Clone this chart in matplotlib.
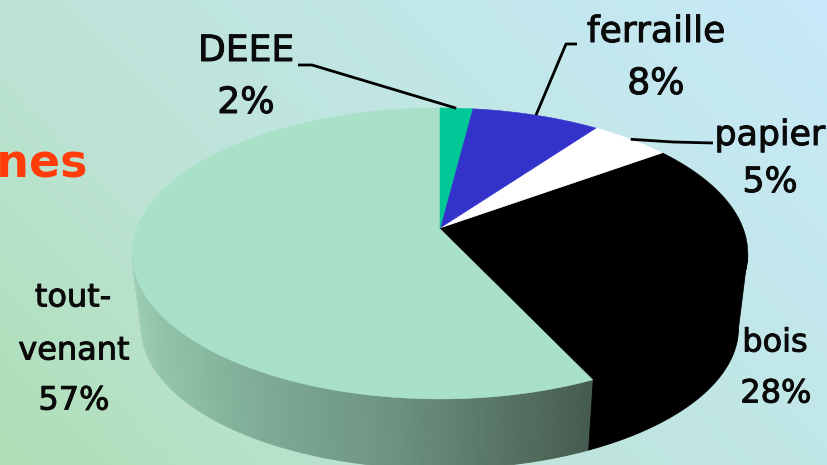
import numpy as np
from matplotlib import pyplot as plt, font_manager, patheffects
from matplotlib.colors import LinearSegmentedColormap
from matplotlib.patches import Polygon

# slices, counter-clockwise from 12 o'clock
names = ['tout-venant', 'bois', 'papier', 'ferraille', 'DEEE']
shares = [57, 28, 5, 8, 2]
colors = ['#a9e1c8', '#000000', '#ffffff', '#3333cc', '#00c896']

# pie projection in pixels (perspective view of a flat disc)
CX, CY = 440, 228
RX, RY = 303, 141
PERSP = 0.175
DEPTH = 75
BOTTOM_SCALE = 0.97
HORIZON = np.degrees(np.arcsin(PERSP))


def project(angle, scale=1.0, drop=0):
    a = np.radians(angle)
    u, v = np.cos(a), np.sin(a)
    w = 1 + PERSP * v
    return CX + scale * RX * u / w, CY + drop - scale * RY * v / w


def rim(a0, a1, scale=1.0, drop=0):
    n = max(int(abs(a1 - a0)) * 2, 2)
    return np.array(project(np.linspace(a0, a1, n), scale, drop)).T


def draw_background(ax):
    bg = LinearSegmentedColormap.from_list('bg', ['#aedfb6', '#bde3d6', '#c2e7e8', '#c7e9f9'])
    xx, yy = np.meshgrid(np.linspace(0, 1, 200), np.linspace(0, 1, 120))
    ax.imshow(0.65 * xx + 0.35 * (1 - yy), cmap=bg, origin='upper',
              extent=(0, 827, 465, 0), aspect='auto', vmin=0, vmax=1)


def draw_wall(ax, a0, a1, cmap):
    steps = np.linspace(a0, a1, int(a1 - a0) * 2 + 1)
    for i in range(len(steps) - 1):
        top = rim(steps[i], steps[i + 1])
        low = rim(steps[i], steps[i + 1], BOTTOM_SCALE, DEPTH)
        c = cmap((steps[i] - a0) / (a1 - a0))
        ax.add_patch(Polygon(np.vstack([top, low[::-1]]), facecolor=c, edgecolor=c, lw=0.6))


fig = plt.figure(figsize=(8.27, 4.65), dpi=100)
ax = fig.add_axes([0, 0, 1, 1])
draw_background(ax)

edges = 90 + np.cumsum([0] + shares) * 3.6
wall_cmap = LinearSegmentedColormap.from_list('wall', ['#a3d3bb', '#8abba3', '#6f9683', '#455a4e'])
draw_wall(ax, 180 + HORIZON, edges[1], wall_cmap)
black_wall = np.vstack([rim(edges[1], 360 - HORIZON), rim(360 - HORIZON, edges[1], BOTTOM_SCALE, DEPTH)])
ax.add_patch(Polygon(black_wall, facecolor='black', edgecolor='black', lw=0.6))

for i in range(len(shares)):
    pts = np.vstack([[CX, CY], rim(edges[i], edges[i + 1])])
    ax.add_patch(Polygon(pts, facecolor=colors[i], edgecolor=colors[i], lw=0.4))

# leaders run from the rim at the middle of each slice to an elbow near the label
leader_names = ['DEEE', 'ferraille', 'papier']
leader_paths = [[(298, 65), (312, 65)], [(577, 44), (566, 44)], [(713, 143), (673, 142)]]
for name, path in zip(leader_names, leader_paths):
    i = names.index(name)
    end = project((edges[i] + edges[i + 1]) / 2)
    xs, ys = zip(*path, end)
    ax.plot(xs, ys, color='black', lw=2, solid_capstyle='butt')

label_lines = {
    'DEEE': [('DEEE', 246, 51), ('2%', 246, 103)],
    'ferraille': [('ferraille', 656, 32), ('8%', 656, 84)],
    'papier': [('papier', 770, 135), ('5%', 770, 182)],
    'tout-venant': [('tout-', 73, 298), ('venant', 74, 351), ('57%', 74, 401)],
    'bois': [('bois', 775, 343), ('28%', 776, 394)],
}
installed = {f.name for f in font_manager.fontManager.ttflist}
narrow = 'Liberation Sans Narrow' if 'Liberation Sans Narrow' in installed else None
stroke = [patheffects.withStroke(linewidth=0.7, foreground='#0a0a0a')]
for name, lines in label_lines.items():
    for text, x, y in lines:
        if name in leader_names:
            size, family = (25 if name == 'papier' else 26), 'DejaVu Sans'
        elif narrow:
            size, family = 30, narrow
        else:
            size, family = 23, 'DejaVu Sans'
        ax.text(x, y, text, fontsize=size, family=family, ha='center', va='center',
                color='#0a0a0a', path_effects=stroke)

ax.text(88, 165, 'tonnes', fontsize=33, fontweight='bold', color='#ff3d0a', ha='right', va='center')

ax.set_xlim(0, 827)
ax.set_ylim(465, 0)
ax.axis('off')
fig.savefig('out.png', dpi=100)
